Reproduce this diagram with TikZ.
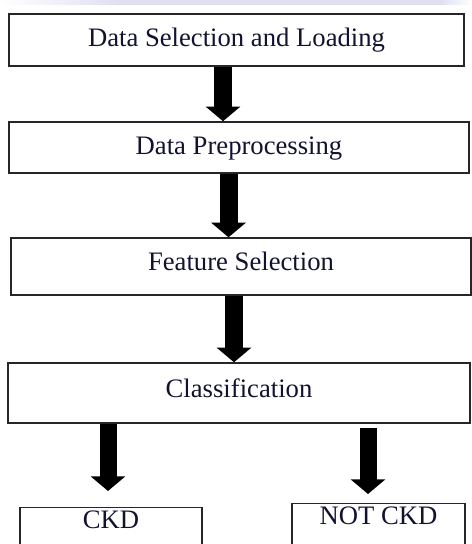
\documentclass[tikz,border=0pt]{standalone}
\usepackage{fontspec}
\setmainfont{Liberation Serif}
\usetikzlibrary{arrows.meta}

\definecolor{inktext}{RGB}{18,18,48}
\definecolor{haze}{RGB}{222,224,240}

\tikzset{
  stagebox/.style={draw=black!85, line width=1.1pt, rectangle, inner sep=0pt,
    text=inktext, font=\fontsize{20}{24}\selectfont,
    text height=14pt, text depth=4pt},
  outcomebox/.style={stagebox, anchor=north, inner ysep=1.5pt, text depth=24pt},
  flowarrow/.style={line width=13.5pt, -{Triangle[width=25.5pt, length=11pt]}},
}

\begin{document}
\begin{tikzpicture}[x=1pt, y=-1pt]
        % --- CANVAS ---
        \useasboundingbox (0,0) rectangle (354,408);
        \clip (0,0) rectangle (354,408);

        % faint band along the top edge
        \shade[left color=white, right color=haze] (0,0) rectangle (90,3.5);
        \fill[haze] (90,0) rectangle (330,3.5);
        \shade[left color=haze, right color=white] (330,0) rectangle (354,3.5);

        % --- STAGES ---
        \node[stagebox, minimum width=341.25pt, minimum height=39pt]
            (load) at (177.4,30) {Data Selection and Loading};
        \node[stagebox, minimum width=345pt, minimum height=38.25pt]
            (prep) at (179.25,110.6) {Data Preprocessing};
        \node[stagebox, text depth=8pt, minimum width=345pt, minimum height=42.75pt]
            (feat) at (180.75,199.9) {Feature Selection};
        \node[stagebox, text depth=8pt, minimum width=346.5pt, minimum height=45pt]
            (classify) at (179.25,294.75) {Classification};

        % --- OUTCOMES (run past the lower edge) ---
        \node[outcomebox, minimum width=136.5pt] (ckd) at (83.25,380.25) {CKD};
        \node[outcomebox, minimum width=129.75pt] (notckd) at (283.9,377.25) {NOT CKD};

        % --- ARROWS ---
        % x positions of the arrow shafts
        \coordinate (a1) at (167.25,0);
        \coordinate (a2) at (171.4,0);
        \coordinate (a3) at (175.5,0);
        \coordinate (a4) at (81,0);
        \coordinate (a5) at (276,0);

        \draw[flowarrow] (load.south -| a1) -- (prep.north -| a1);
        \draw[flowarrow] (prep.south -| a2) -- (feat.north -| a2);
        \draw[flowarrow] (feat.south -| a3) -- (classify.north -| a3);
        \draw[flowarrow, line width=12.75pt, shorten >=12pt] (classify.south -| a4) -- (ckd.north -| a4);
        \draw[flowarrow, line width=12.75pt, shorten <=3pt, shorten >=6.75pt] (classify.south -| a5) -- (notckd.north -| a5);
\end{tikzpicture}
\end{document}
